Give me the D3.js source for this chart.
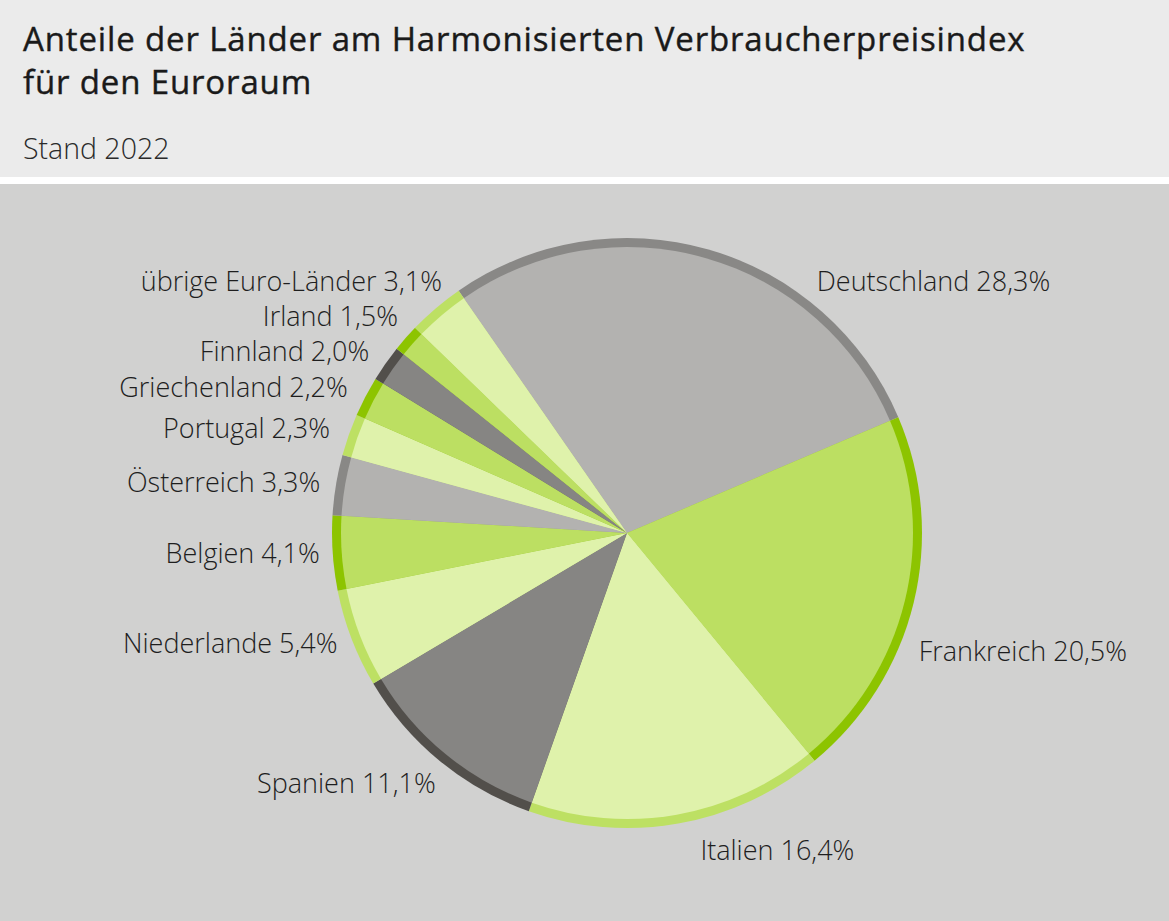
<!DOCTYPE html>
<html>
<head>
<meta charset="utf-8">
<script src="https://cdn.jsdelivr.net/npm/d3@7"></script>
<style>
  html, body { margin: 0; padding: 0; background: #d1d1d0; }
  svg { display: block; font-family: "Open Sans", "Noto Sans", sans-serif; }
  .chart-title { font-size: 33px; font-weight: 500; fill: #1a1a1a; letter-spacing: 0.85px; stroke: #1a1a1a; stroke-width: 0.4px; }
  .chart-subtitle { font-size: 28.5px; font-weight: 300; fill: #2a2a2a; }
  .slice-label { font-size: 27px; font-weight: 300; fill: #1e1e1e; }
</style>
</head>
<body>
<div id="chart"></div>
<script>
// Anteile in Prozent, im Uhrzeigersinn ab Deutschland
const countries = ['Deutschland', 'Frankreich', 'Italien', 'Spanien', 'Niederlande', 'Belgien',
  'Österreich', 'Portugal', 'Griechenland', 'Finnland', 'Irland', 'übrige Euro-Länder'];
const shares = [28.3, 20.5, 16.4, 11.1, 5.4, 4.1, 3.3, 2.3, 2.2, 2.0, 1.5, 3.1];
const titleLines = ['Anteile der Länder am Harmonisierten Verbraucherpreisindex', 'für den Euroraum'];
const subtitle = 'Stand 2022';

// colour families: fill / outer ring
const palette = {
  grey:  {fill: '#b3b2b0', ring: '#898886'},
  green: {fill: '#bcdf62', ring: '#8dc400'},
  pale:  {fill: '#dff2ab', ring: '#bde063'},
  dark:  {fill: '#868583', ring: '#524f4b'}
};
const sliceColours = ['grey', 'green', 'pale', 'dark', 'pale', 'green', 'grey', 'pale', 'green', 'dark', 'green', 'pale'];

const config = {
  width: 1169,
  height: 921,
  headerHeight: 177,
  gapHeight: 7,
  cx: 627,
  cy: 533,
  radius: 295,
  ringWidth: 9,
  labelRadius: 315,
  startDeg: -34.8
};
// hand placed labels: [angle shift in degrees from mid angle, radius shift in px]
const labelNudge = {
  'Deutschland': [21, 0],
  'Frankreich': [8.5, 0],
  'Italien': [-3, 11],
  'Spanien': [-2, 0],
  'Niederlande': [0, -5],
  'Belgien': [0, -7],
  'Österreich': [0, -4],
  'Irland': [2, 0],
  'übrige Euro-Länder': [4, -3]
};

const svg = d3.select('#chart').append('svg')
  .attr('width', config.width)
  .attr('height', config.height);

// header
svg.append('rect')
  .attr('width', config.width)
  .attr('height', config.headerHeight)
  .attr('fill', '#ebebeb');
svg.append('rect')
  .attr('y', config.headerHeight)
  .attr('width', config.width)
  .attr('height', config.gapHeight)
  .attr('fill', '#ffffff');
svg.append('rect')
  .attr('y', config.headerHeight + config.gapHeight)
  .attr('width', config.width)
  .attr('height', config.height - config.headerHeight - config.gapHeight)
  .attr('fill', '#d1d1d0');

svg.selectAll('.chart-title')
  .data(titleLines)
  .join('text')
  .attr('class', 'chart-title')
  .attr('x', 23)
  .attr('y', (d, i) => 51 + i * 43)
  .text(d => d);

svg.append('text')
  .attr('class', 'chart-subtitle')
  .attr('x', 23)
  .attr('y', 159)
  .text(subtitle);

// pie
const data = countries.map((c, i) => ({name: c, value: shares[i], colour: palette[sliceColours[i]]}));
const start = config.startDeg * Math.PI / 180;
const pie = d3.pie()
  .value(d => d.value)
  .sort(null)
  .startAngle(start)
  .endAngle(start + 2 * Math.PI);
const arcs = pie(data);

const chart = svg.append('g')
  .attr('transform', `translate(${config.cx},${config.cy})`);

const outerArc = d3.arc().innerRadius(0).outerRadius(config.radius);
const innerArc = d3.arc().innerRadius(0).outerRadius(config.radius - config.ringWidth);

chart.selectAll('.ring')
  .data(arcs)
  .join('path')
  .attr('class', 'ring')
  .attr('d', outerArc)
  .attr('fill', d => d.data.colour.ring);

chart.selectAll('.slice')
  .data(arcs)
  .join('path')
  .attr('class', 'slice')
  .attr('d', innerArc)
  .attr('fill', d => d.data.colour.fill);

// labels
const fmt = v => d3.format('.1f')(v).replace('.', ',') + '%';
chart.selectAll('.slice-label')
  .data(arcs)
  .join('text')
  .attr('class', 'slice-label')
  .each(function(d) {
    const nudge = labelNudge[d.data.name] || [0, 0];
    const a = (d.startAngle + d.endAngle) / 2 + nudge[0] * Math.PI / 180;
    const r = config.labelRadius + nudge[1];
    d3.select(this)
      .attr('x', Math.sin(a) * r)
      .attr('y', -Math.cos(a) * r)
      .attr('dy', '0.35em')
      .attr('text-anchor', Math.sin(a) >= 0 ? 'start' : 'end')
      .text(`${d.data.name} ${fmt(d.data.value)}`);
  });
</script>
</body>
</html>
